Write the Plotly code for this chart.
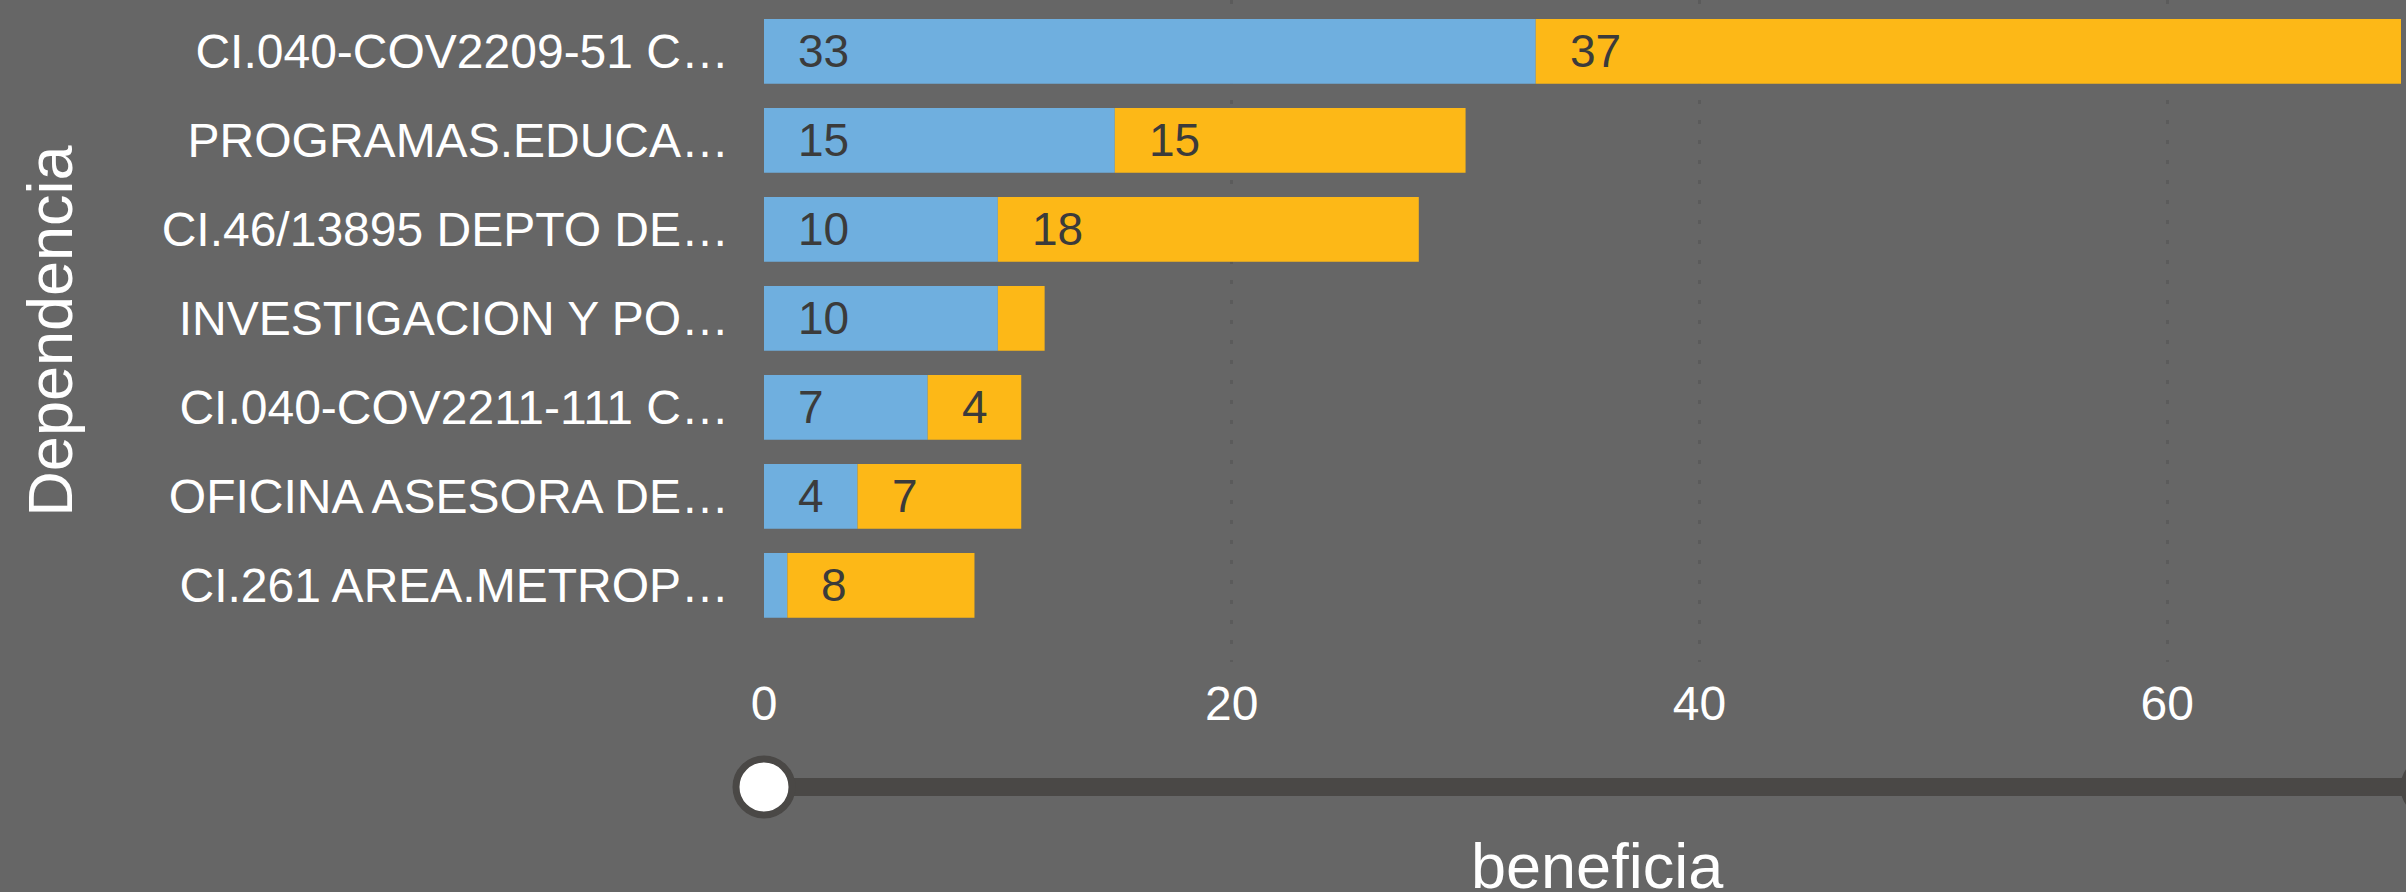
import plotly.graph_objects as go

categories = [
    "CI.040-COV2209-51 C…",
    "PROGRAMAS.EDUCA…",
    "CI.46/13895 DEPTO DE…",
    "INVESTIGACION Y PO…",
    "CI.040-COV2211-111 C…",
    "OFICINA ASESORA DE…",
    "CI.261 AREA.METROP…",
]
serie_azul = [33, 15, 10, 10, 7, 4, 1]
serie_naranja = [37, 15, 18, 2, 4, 7, 8]
x_ticks = [0, 20, 40, 60]

BG = "#666666"
BLUE = "#6FAFDF"
ORANGE = "#FDB817"
LABEL = "#3B3B3B"
FONT = "Liberation Sans, Arial, sans-serif"

fig = go.Figure()
fig.add_trace(go.Bar(y=categories, x=serie_azul, orientation="h",
                     marker=dict(color=BLUE, line=dict(width=0)), name="azul",
                     hoverinfo="x+y"))
fig.add_trace(go.Bar(y=categories, x=serie_naranja, orientation="h",
                     marker=dict(color=ORANGE, line=dict(width=0)), name="naranja",
                     base=serie_azul, hoverinfo="x+y"))

# data labels, placed at start of each segment
annotations = []
for cat, a, o in zip(categories, serie_azul, serie_naranja):
    for base, v in ((0, a), (a, o)):
        if v >= 3:
            annotations.append(dict(x=base, y=cat, xref="x", yref="y", text=str(v),
                                    showarrow=False, xanchor="left", yanchor="middle",
                                    xshift=32, font=dict(family=FONT, size=46, color=LABEL)))

# plot area geometry (pixels)
PLOT_H = 662.0
PLOT_W = 1637.0
track_y = -(787 - PLOT_H) / PLOT_H

# x-axis title (placed as annotation so it can sit partly below the page edge)
annotations.append(dict(text="beneficia", xref="paper", yref="paper",
                        x=(1597 - 764) / PLOT_W, y=-(866 - PLOT_H) / PLOT_H,
                        xanchor="center", yanchor="middle", showarrow=False,
                        font=dict(size=63, color="white", family=FONT)))

shapes = [
    dict(type="rect", xref="paper", yref="paper", x0=0, x1=1.05,
         ysizemode="pixel", yanchor=track_y, y0=-9, y1=9,
         line=dict(width=0), fillcolor="#4A4846", layer="above"),
]
for xa in (0.0, (2432 - 764) / PLOT_W):
    shapes.append(dict(type="circle", xref="paper", yref="paper",
                       xsizemode="pixel", xanchor=xa, x0=-28, x1=28,
                       ysizemode="pixel", yanchor=track_y, y0=-28, y1=28,
                       line=dict(color="#4A4846", width=7), fillcolor="white",
                       layer="above"))

fig.update_layout(
    width=2406, height=892, autosize=False,
    paper_bgcolor=BG, plot_bgcolor=BG,
    margin=dict(l=764, r=5, t=0, b=230),
    barmode="overlay", bargap=0.273, showlegend=False,
    font=dict(family=FONT, color="white"),
    annotations=annotations, shapes=shapes,
    xaxis=dict(range=[0, 70], tickvals=x_ticks, showgrid=True, gridcolor="#5B5B5B",
               griddash="4px,16px", gridwidth=3, zeroline=False, showline=False,
               tickfont=dict(size=48, color="white", family=FONT),
               ticklabelstandoff=9),
    yaxis=dict(autorange=False, range=[(PLOT_H - 51.4) / 89.0, -51.4 / 89.0],
               type="category", showgrid=False, zeroline=False, showline=False,
               tickfont=dict(size=48, color="white", family=FONT),
               ticklabelstandoff=34,
               title=dict(text="Dependencia", font=dict(size=63, color="white", family=FONT),
                          standoff=68)),
)

fig.write_html("out.html", config={"displayModeBar": False},
               post_script="document.body.style.margin='0';document.body.style.overflow='hidden';")
